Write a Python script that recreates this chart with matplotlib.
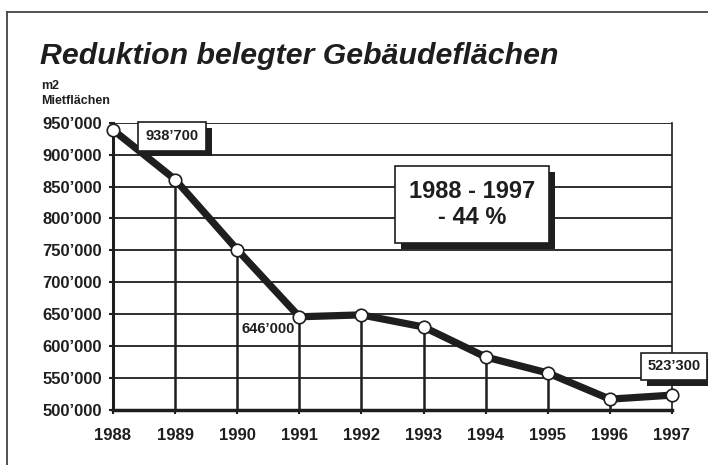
import matplotlib
matplotlib.use("Agg")
import matplotlib.pyplot as plt
import matplotlib.patheffects as pe
from matplotlib.lines import Line2D

plt.rcParams['font.family'] = ['Liberation Sans', 'DejaVu Sans']

# --- Data ---
years = [1988, 1989, 1990, 1991, 1992, 1993, 1994, 1995, 1996, 1997]
flaechen = [938700, 861000, 751000, 646000, 649000, 630000, 583000, 558000, 517000, 523300]
y_ticks = list(range(500000, 950001, 50000))

ink = '#1e1e1e'

def fmt(v):
    s = f"{v:,}".replace(",", "\u2019")
    return s

fig = plt.figure(figsize=(7.08, 4.65), dpi=100)
ax = fig.add_axes([113 / 708, 1 - 410 / 465, (672 - 113) / 708, (410 - 122.7) / 465])

ax.set_xlim(1988, 1997)
ax.set_ylim(500000, 950000)

# horizontal grid
for v in y_ticks[1:]:
    ax.axhline(v, color=ink, lw=1.3, zorder=1)

# drop lines from points
for x, v in zip(years[1:-1], flaechen[1:-1]):
    ax.plot([x, x], [500000, v], color=ink, lw=1.8, zorder=1)

# data line
ax.plot(years, flaechen, color=ink, lw=5.2, zorder=3, solid_joinstyle='round',
        marker='o', markersize=9, markerfacecolor='white', markeredgecolor=ink,
        markeredgewidth=1.2, clip_on=False)

ax.spines['top'].set_visible(False)
ax.spines['left'].set_linewidth(2.2)
ax.spines['bottom'].set_linewidth(2.5)
ax.spines['right'].set_linewidth(1.2)
for s in ax.spines.values():
    s.set_color(ink)
    s.set_zorder(2)

ax.set_yticks(y_ticks)
ax.set_yticklabels([fmt(v) for v in y_ticks])
ax.set_xticks(years)
ax.set_xticklabels([str(y) for y in years])
ax.tick_params(axis='y', length=3, width=1.5, pad=5, colors=ink, labelsize=12)
ax.tick_params(axis='x', length=3, width=1.5, pad=10, colors=ink, labelsize=12)
for lab in ax.get_xticklabels() + ax.get_yticklabels():
    lab.set_fontweight('bold')

shadow = [pe.withSimplePatchShadow(offset=(4.2, -4.2), shadow_rgbFace=ink, alpha=1.0)]

t1 = ax.text(1988.95, 928600, fmt(flaechen[0]), ha='center', va='center', fontsize=10.5,
             fontweight='bold', color=ink, zorder=5,
             bbox=dict(boxstyle='square,pad=0.5', fc='white', ec=ink, lw=1.2))
t1.get_bbox_patch().set_path_effects(shadow)

t2 = ax.text(1997.03, 568300, fmt(flaechen[-1]), ha='center', va='center', fontsize=10.5,
             fontweight='bold', color=ink, zorder=5, clip_on=False,
             bbox=dict(boxstyle='square,pad=0.45', fc='white', ec=ink, lw=1.2))
t2.get_bbox_patch().set_path_effects(shadow)

ax.text(1990.5, 627300, fmt(flaechen[3]), ha='center', va='center', fontsize=10.5,
        fontweight='bold', color=ink, zorder=5)

t3 = ax.text(1993.78, 821400, f"{years[0]} - {years[-1]}\n- 44 %", ha='center', va='center',
             fontsize=17, fontweight='bold', color=ink, zorder=5, linespacing=1.15,
             bbox=dict(boxstyle='square,pad=0.6', fc='white', ec=ink, lw=1.2))
t3.get_bbox_patch().set_path_effects(shadow)

# title and unit
fig.text(40 / 708, 1 - 64 / 465, "Reduktion belegter Gebäudeflächen", fontsize=21.8,
         fontweight='bold', fontstyle='italic', color=ink, va='baseline')
fig.text(41 / 708, 1 - 86 / 465, "m2", fontsize=9, fontweight='bold', color=ink, va='center')
fig.text(41 / 708, 1 - 101 / 465, "Mietflächen", fontsize=9, fontweight='bold', color=ink, va='center')

# outer frame
fig.add_artist(Line2D([7 / 708, 1], [1 - 12 / 465, 1 - 12 / 465], color='#444444', lw=1.3))
fig.add_artist(Line2D([7 / 708, 7 / 708], [0, 1 - 12 / 465], color='#444444', lw=1.3))

fig.savefig("out.png", dpi=100)
